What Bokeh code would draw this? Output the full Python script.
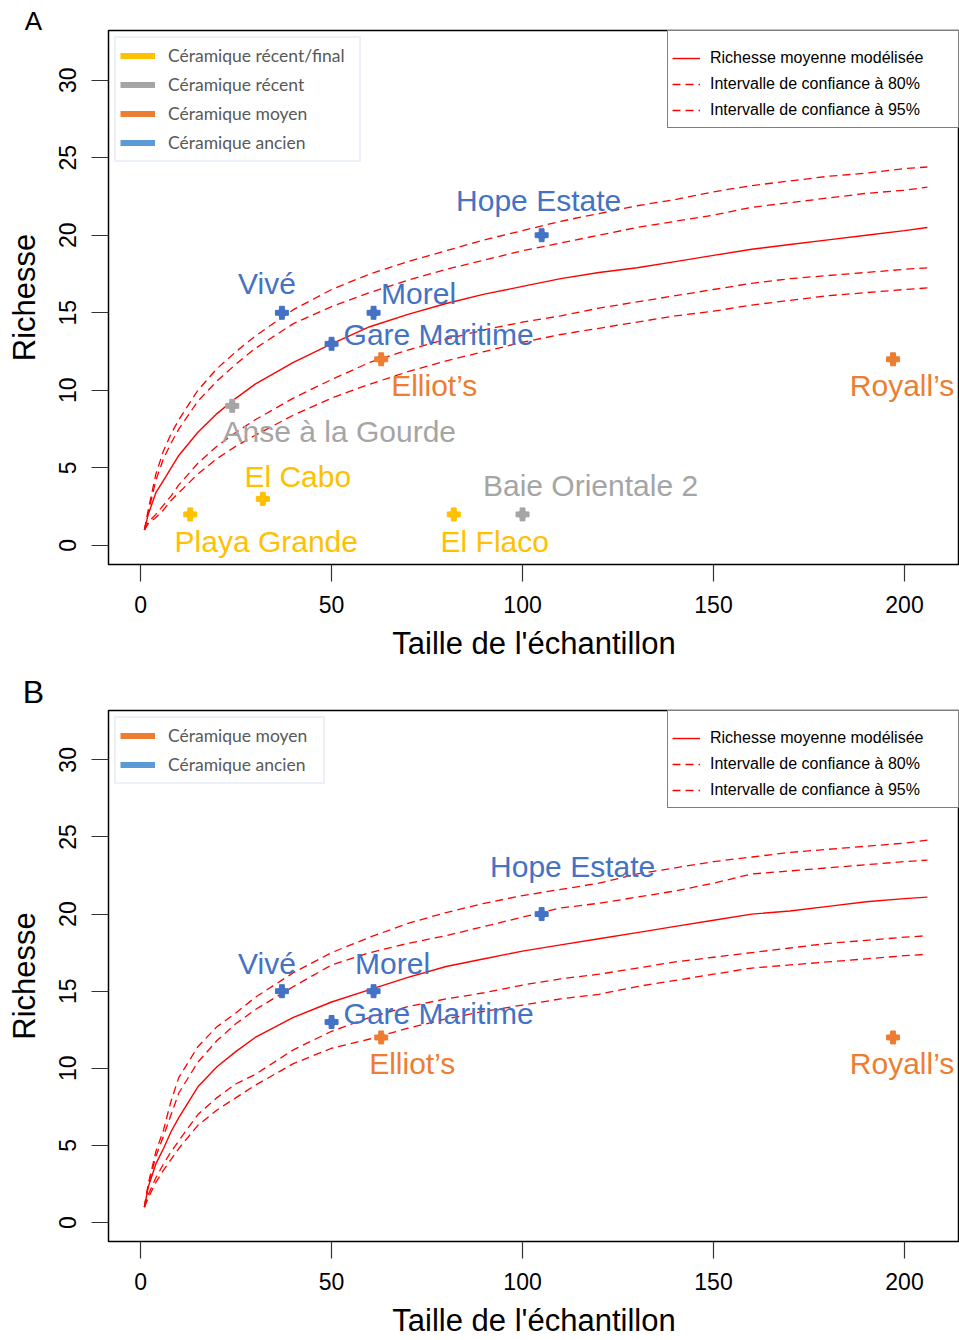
from bokeh.plotting import figure
from bokeh.models import Range1d, FixedTicker, Legend, LegendItem, Label, ColumnDataSource
from bokeh.layouts import column
from bokeh.embed import file_html
from bokeh.resources import INLINE
from bokeh.core.properties import value

# ---------------- data ----------------
sample_x = [1, 2, 4, 6, 8, 10, 15, 20, 25, 30, 40, 50, 60, 70, 80, 90, 100,
            110, 120, 130, 140, 150, 160, 170, 180, 190, 200, 206]

# Panel A curves
a_mean = [1.0, 2.0, 3.4, 4.2, 5.0, 5.8, 7.3, 8.5, 9.5, 10.4, 11.8, 13.0, 14.1, 14.9,
          15.6, 16.2, 16.7, 17.2, 17.6, 17.9, 18.3, 18.7, 19.1, 19.4, 19.7, 20.0, 20.3, 20.5]
a_up95 = [1.0, 2.3, 4.6, 6.1, 7.2, 8.1, 10.0, 11.4, 12.5, 13.5, 15.2, 16.5, 17.5, 18.3,
          19.0, 19.7, 20.3, 20.9, 21.4, 21.9, 22.3, 22.8, 23.2, 23.5, 23.8, 24.0, 24.3, 24.4]
a_up80 = [1.0, 2.1, 4.2, 5.6, 6.6, 7.5, 9.3, 10.6, 11.7, 12.7, 14.3, 15.4, 16.3, 17.1,
          17.8, 18.4, 19.0, 19.5, 20.0, 20.5, 20.9, 21.3, 21.8, 22.1, 22.4, 22.7, 22.9, 23.1]
a_lo80 = [1.0, 1.5, 2.0, 2.6, 3.2, 3.9, 5.3, 6.4, 7.3, 8.1, 9.5, 10.7, 11.8, 12.6,
          13.3, 13.9, 14.4, 14.8, 15.3, 15.7, 16.1, 16.5, 16.9, 17.2, 17.4, 17.6, 17.8, 17.9]
a_lo95 = [1.0, 1.4, 1.8, 2.3, 2.9, 3.4, 4.6, 5.6, 6.4, 7.1, 8.4, 9.5, 10.4, 11.2,
          11.9, 12.5, 13.1, 13.6, 14.0, 14.4, 14.8, 15.1, 15.5, 15.8, 16.1, 16.3, 16.5, 16.6]

# Panel B curves
b_mean = [1.0, 2.3, 3.8, 4.8, 5.9, 6.8, 8.8, 10.1, 11.1, 12.0, 13.3, 14.3, 15.1, 15.9,
          16.6, 17.1, 17.6, 18.0, 18.4, 18.8, 19.2, 19.6, 20.0, 20.2, 20.5, 20.8, 21.0, 21.1]
b_up95 = [1.0, 2.5, 4.6, 6.0, 7.9, 9.4, 11.4, 12.7, 13.6, 14.6, 16.2, 17.5, 18.5, 19.4,
          20.1, 20.7, 21.2, 21.6, 22.0, 22.6, 23.0, 23.4, 23.7, 24.0, 24.2, 24.4, 24.6, 24.8]
b_up80 = [1.0, 2.4, 4.3, 5.6, 7.0, 8.4, 10.4, 11.8, 12.9, 13.8, 15.3, 16.7, 17.5, 18.1,
          18.6, 19.2, 19.8, 20.4, 20.7, 21.1, 21.5, 22.0, 22.6, 22.8, 23.0, 23.2, 23.4, 23.5]
b_lo80 = [1.0, 1.8, 2.9, 3.8, 4.6, 5.3, 7.0, 8.1, 9.0, 9.6, 11.2, 12.4, 13.3, 14.0,
          14.5, 14.9, 15.4, 15.8, 16.1, 16.5, 16.9, 17.2, 17.5, 17.8, 18.1, 18.3, 18.5, 18.6]
b_lo95 = [1.0, 1.6, 2.6, 3.4, 4.1, 4.8, 6.3, 7.3, 8.1, 8.9, 10.3, 11.3, 11.9, 12.6,
          13.2, 13.7, 14.1, 14.5, 14.8, 15.3, 15.7, 16.1, 16.5, 16.7, 16.9, 17.1, 17.3, 17.4]

# Sites (panel A)
a_sites = ["Hope Estate", "Vivé", "Morel", "Gare Maritime", "Elliot’s", "Royall’s",
           "Anse à la Gourde", "Baie Orientale 2", "El Cabo", "Playa Grande", "El Flaco"]
a_size = [105, 37, 61, 50, 63, 197, 24, 100, 32, 13, 82]
a_rich = [20, 15, 15, 13, 12, 12, 9, 2, 3, 2, 2]
a_period = ["ancien", "ancien", "ancien", "ancien", "moyen", "moyen",
            "récent", "récent", "final", "final", "final"]

# Sites (panel B)
b_sites = ["Hope Estate", "Vivé", "Morel", "Gare Maritime", "Elliot’s", "Royall’s"]
b_size = [105, 37, 61, 50, 63, 197]
b_rich = [20, 15, 15, 13, 12, 12]
b_period = ["ancien", "ancien", "ancien", "ancien", "moyen", "moyen"]

period_names = {"final": "Céramique récent/final", "récent": "Céramique récent",
                "moyen": "Céramique moyen", "ancien": "Céramique ancien"}

x_ticks = [0, 50, 100, 150, 200]
y_ticks = [0, 5, 10, 15, 20, 25, 30]

# ---------------- styling ----------------
point_colors = {"final": "#FFC000", "récent": "#A5A5A5", "moyen": "#ED7D31", "ancien": "#4472C4"}
swatch_colors = {"final": "#FFC000", "récent": "#A5A5A5", "moyen": "#ED7D31", "ancien": "#5B9BD5"}

# label offsets (pixels) relative to the site points
a_offsets = {"Hope Estate": (-3, -35), "Vivé": (-15, -29), "Morel": (45, -19),
             "Gare Maritime": (107, -9), "Elliot’s": (53, 26), "Royall’s": (9, 26),
             "Anse à la Gourde": (107, 26), "Baie Orientale 2": (68, -29),
             "El Cabo": (35, -22), "Playa Grande": (76, 27), "El Flaco": (41, 27)}
b_offsets = {"Hope Estate": (31, -48), "Vivé": (-15, -28), "Morel": (19, -28),
             "Gare Maritime": (107, -9), "Elliot’s": (31, 26), "Royall’s": (9, 26)}

FONT = value("Liberation Sans")
RED = "#FF0000"
DASH = "8 5"
NAN = float("nan")


def letter_label(text, size, rise):
    return Label(x=-75, y=rise, x_units="screen", y_units="screen", text=text,
                 text_font="Liberation Sans", text_font_size=size, text_align="center",
                 text_baseline="middle", text_color="black")


def build(curves, sites, sizes, rich, periods, offsets, legend_periods,
          fig_height, border_top):
    frame_bottom = border_top + 534
    p = figure(width=959, height=fig_height, output_backend="svg", toolbar_location=None,
               x_range=Range1d(-8.4, 214.4), y_range=Range1d(-1.23, 33.2),
               min_border_left=108, min_border_right=0, min_border_top=border_top,
               min_border_bottom=fig_height - frame_bottom)
    p.xgrid.visible = False
    p.ygrid.visible = False
    p.outline_line_color = "black"
    p.outline_line_width = 1.5
    p.background_fill_color = "white"
    p.border_fill_color = "white"

    for ax, ticks in ((p.xaxis[0], x_ticks), (p.yaxis[0], y_ticks)):
        ax.ticker = FixedTicker(ticks=ticks)
        ax.axis_line_color = None
        ax.major_tick_out = 17
        ax.major_tick_in = 0
        ax.major_tick_line_color = "#333333"
        ax.major_tick_line_width = 1.2
        ax.minor_tick_line_color = None
        ax.major_label_text_font = "Liberation Sans"
        ax.major_label_text_font_size = "23px"
        ax.major_label_text_color = "black"
        ax.axis_label_text_font = "Liberation Sans"
        ax.axis_label_text_font_size = "31px"
        ax.axis_label_text_font_style = "normal"
        ax.axis_label_text_color = "black"
    p.xaxis.axis_label = "Taille de l'échantillon"
    p.xaxis.major_label_standoff = 14
    p.xaxis.axis_label_standoff = 10
    p.yaxis.axis_label = "Richesse"
    p.yaxis.major_label_orientation = "vertical"
    p.yaxis.major_label_standoff = 15
    p.yaxis.axis_label_standoff = 15

    mean, up95, up80, lo80, lo95 = curves
    r_mean = p.line(sample_x, mean, line_color=RED, line_width=1.4)
    p.line(sample_x, up95, line_color=RED, line_width=1.3, line_dash=DASH)
    p.line(sample_x, up80, line_color=RED, line_width=1.3, line_dash=DASH)
    r_lo80 = p.line(sample_x, lo80, line_color=RED, line_width=1.3, line_dash=DASH)
    r_lo95 = p.line(sample_x, lo95, line_color=RED, line_width=1.3, line_dash=DASH)

    src = ColumnDataSource(dict(
        x=sizes, y=rich, name=sites,
        color=[point_colors[k] for k in periods],
        dx=[offsets[s][0] for s in sites],
        dy=[offsets[s][1] for s in sites]))
    p.scatter("x", "y", source=src, marker="plus", size=13, fill_color="color",
              line_color="color")
    p.scatter("x", "y", source=src, marker="circle", size=8, fill_color="color",
              line_color="color")
    p.text("x", "y", text="name", source=src, x_offset="dx", y_offset="dy",
           text_color="color", text_font=FONT, text_font_size="30px",
           text_align="center", text_baseline="middle")

    # period legend (coloured bars); swatch renderers carry no visible data
    items = []
    for k in legend_periods:
        r = p.line(x=[NAN], y=[NAN], line_color=swatch_colors[k], line_width=6)
        items.append(LegendItem(label=period_names[k], renderers=[r]))
    lab_w = 187 if len(legend_periods) == 4 else 151
    leg1 = Legend(items=items, location="top_left", margin=6, padding=4, spacing=2,
                  glyph_width=35, glyph_height=27, label_height=27, label_standoff=13,
                  label_width=lab_w, label_text_font="Lato", label_text_font_size="17.5px",
                  label_text_color="#595959", border_line_color="#DAE3F3",
                  border_line_width=2, background_fill_color="white",
                  background_fill_alpha=1)
    p.add_layout(leg1)

    leg2 = Legend(items=[LegendItem(label="Richesse moyenne modélisée", renderers=[r_mean]),
                         LegendItem(label="Intervalle de confiance à 80%", renderers=[r_lo80]),
                         LegendItem(label="Intervalle de confiance à 95%", renderers=[r_lo95])],
                  location="top_right", margin=0, padding=4, spacing=0,
                  title=" ", title_text_font_size="9px", title_standoff=0,
                  glyph_width=28, glyph_height=26, label_height=26, label_standoff=10,
                  label_width=244, label_text_font="Liberation Sans",
                  label_text_font_size="16px", label_text_color="black",
                  border_line_color="black", border_line_width=1.5,
                  background_fill_color="white", background_fill_alpha=1)
    p.add_layout(leg2)
    return p


pA = build((a_mean, a_up95, a_up80, a_lo80, a_lo95), a_sites, a_size, a_rich,
           a_period, a_offsets, ["final", "récent", "moyen", "ancien"], 709, 30)
pB = build((b_mean, b_up95, b_up80, b_lo80, b_lo95), b_sites, b_size, b_rich,
           b_period, b_offsets, ["moyen", "ancien"], 631, 1)

# panel letters live in side panels so they are not clipped to a frame
pA.add_layout(letter_label("A", "26px", 10), "above")
pA.add_layout(letter_label("B", "32px", 8), "below")

layout = column(pA, pB, spacing=0)
open("out.html", "w").write(file_html(layout, INLINE))
